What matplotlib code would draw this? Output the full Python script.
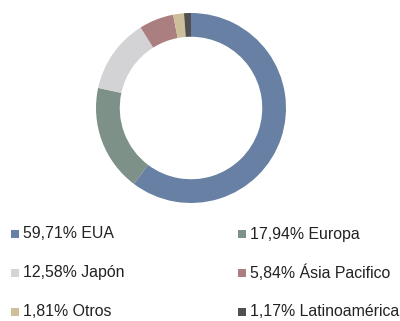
import matplotlib
matplotlib.use("Agg")
import matplotlib.pyplot as plt
from matplotlib.patches import Rectangle

regions = ["EUA", "Europa", "Japón", "Ásia Pacifico", "Otros", "Latinoamérica"]
shares = [59.71, 17.94, 12.58, 5.84, 1.81, 1.17]
colors = ["#6780a3", "#7d9189", "#d3d3d5", "#ab7e80", "#cdbf9a", "#505050"]

plt.rcParams["font.family"] = ["Liberation Sans", "DejaVu Sans"]

W, H = 400, 321
fig = plt.figure(figsize=(W / 100, H / 100), dpi=100)

# donut: centre (191, 108) px, outer radius 95 px
cx, cy, r = 191, 108, 95
ax = fig.add_axes([(cx - r) / W, (H - cy - r) / H, 2 * r / W, 2 * r / H])
ax.pie(shares, colors=colors, startangle=90, counterclock=False,
       radius=1.0, wedgeprops=dict(width=0.25, edgecolor="none"))
ax.set_xlim(-1, 1)
ax.set_ylim(-1, 1)
ax.set_aspect("equal")
ax.axis("off")

# legend, two columns, row-wise
col_x = [11, 238]
row_y = [234, 273, 312]
sq = 8
for i, (name, val, c) in enumerate(zip(regions, shares, colors)):
    row, col = divmod(i, 2)
    x0, y0 = col_x[col], row_y[row]
    fig.patches.append(Rectangle((x0 / W, (H - y0 - sq / 2) / H), sq / W, sq / H,
                                 transform=fig.transFigure, facecolor=c,
                                 edgecolor="none"))
    label = f"{val:.2f}".replace(".", ",") + f"% {name}"
    fig.text((x0 + sq + 4) / W, (H - y0) / H, label, fontsize=11.4,
             color="#222222", va="center", ha="left")

fig.savefig("out.png", dpi=100)
